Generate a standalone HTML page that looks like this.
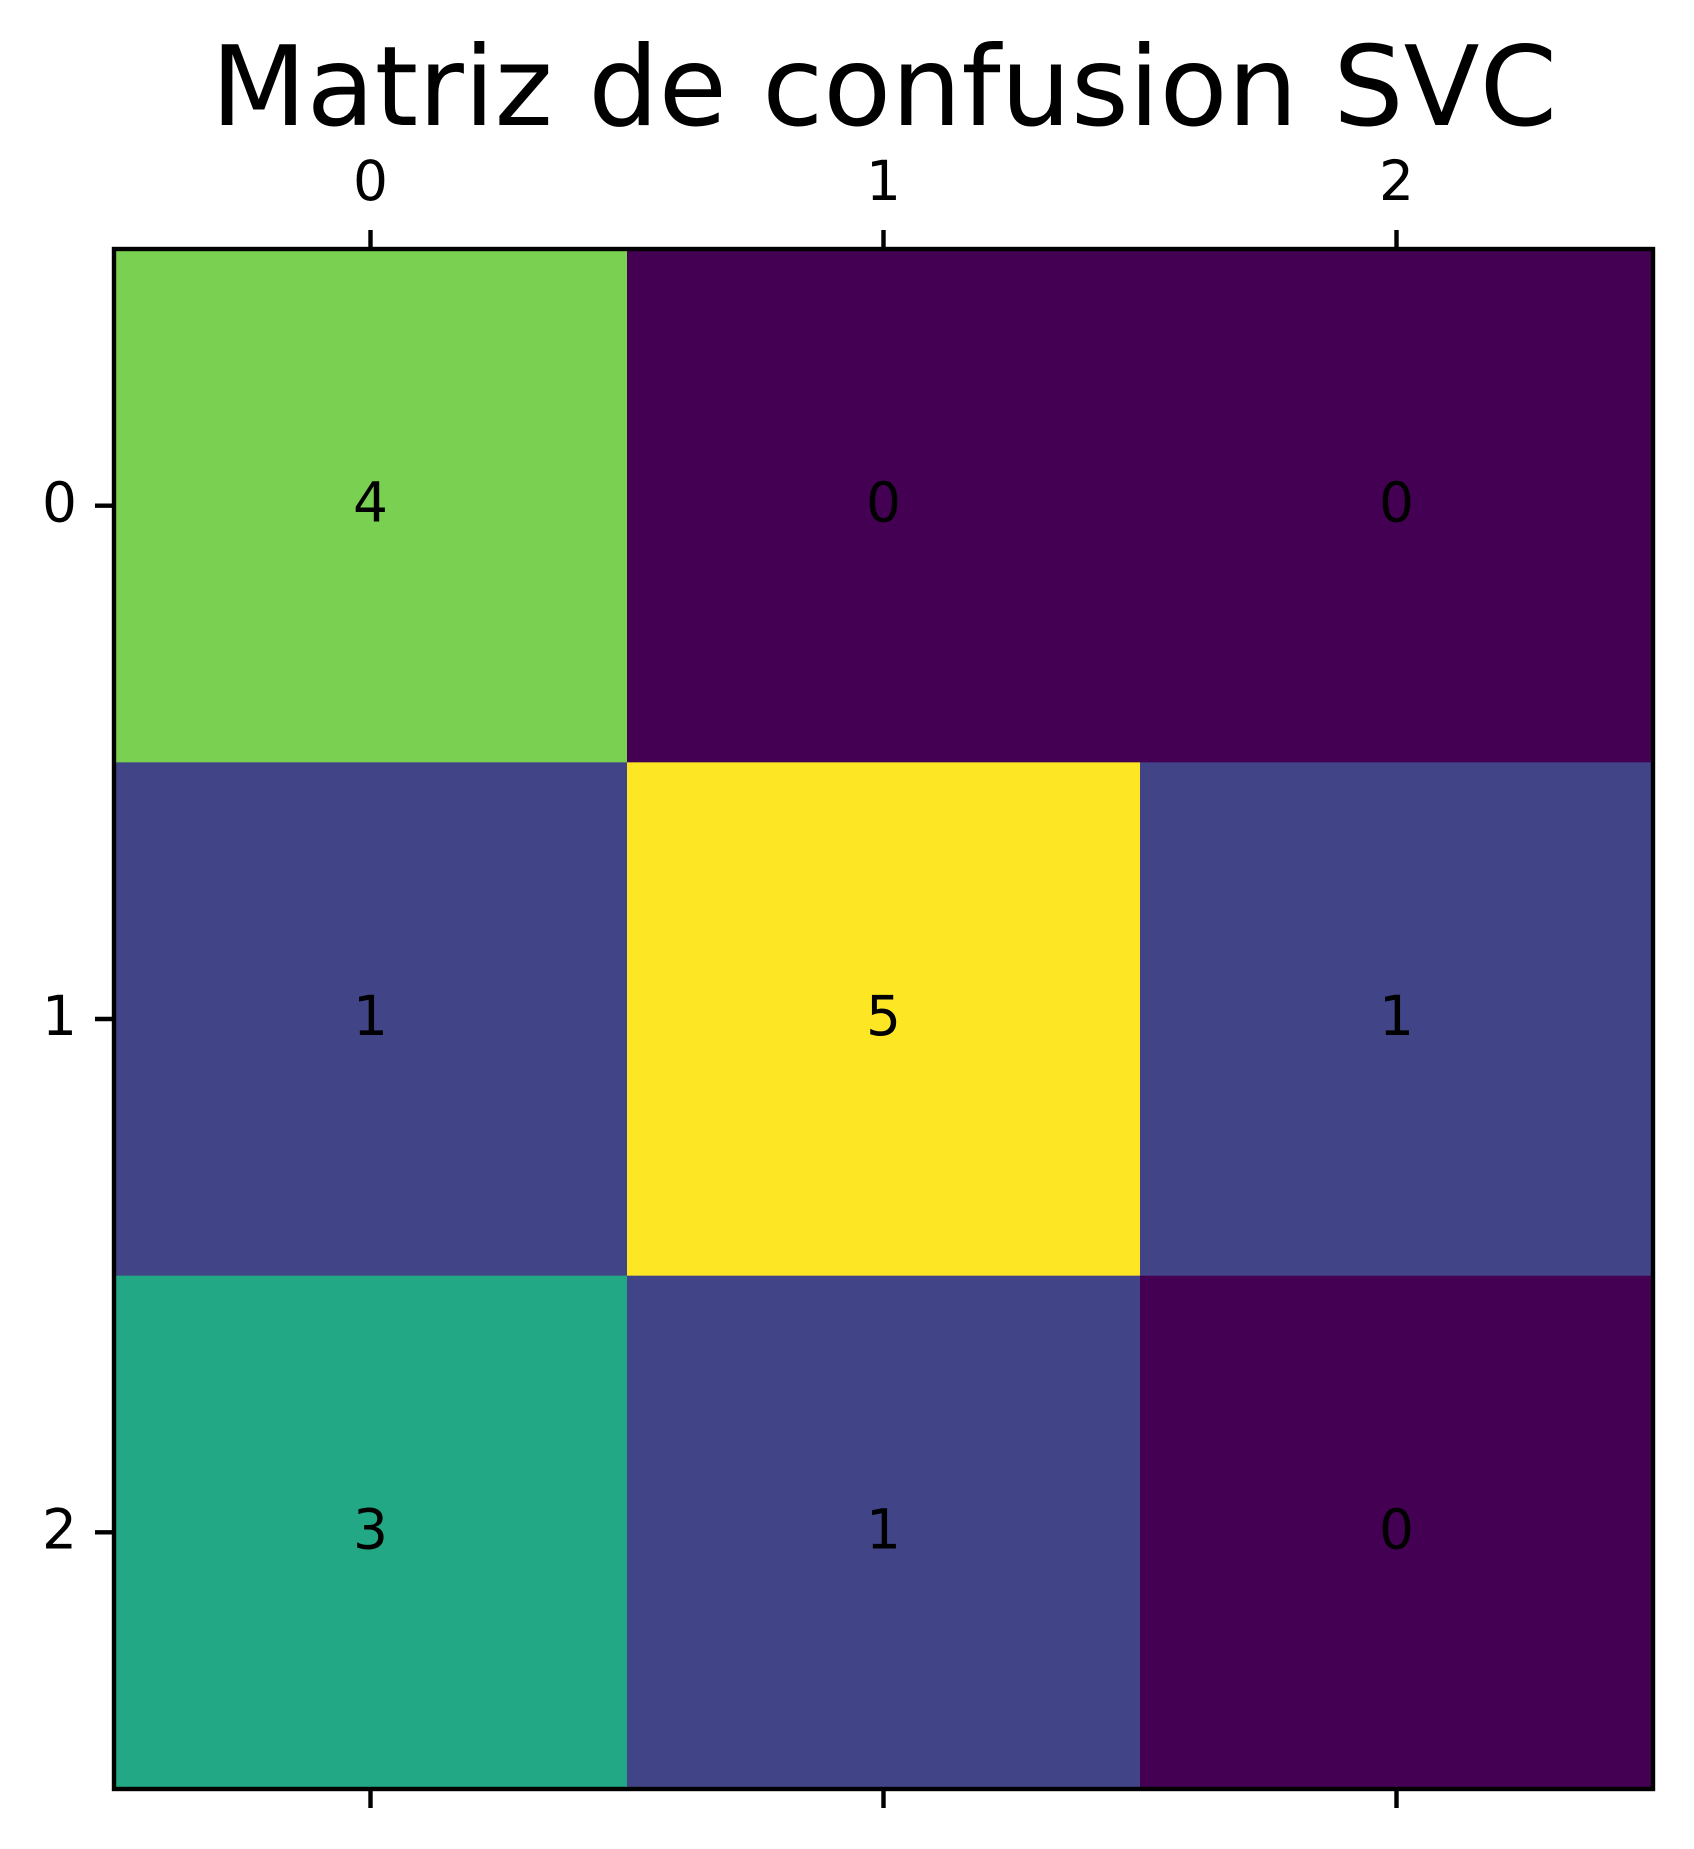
<!DOCTYPE html>
<html><head><meta charset="utf-8"><style>
body{margin:0;background:#fff}
svg{display:block;font-family:"DejaVu Sans","Liberation Sans",sans-serif}
</style></head><body>
<svg id="chart" width="1694" height="1849" viewBox="0 0 1694 1849">
<text x="884" y="125" font-size="111" text-anchor="middle">Matriz de confusion SVC</text>
<g id="cells"></g>
<g id="ticks"></g>
<rect x="114" y="249" width="1539" height="1540" fill="none" stroke="#000" stroke-width="4.4"/>
</svg>
<script>
const rowLabels = ["0","1","2"];
const colLabels = ["0","1","2"];
const matrixValues = [[4,0,0],[1,5,1],[3,1,0]];
const viridis = ["#440154","#414487","#2a788e","#22a884","#7ad151","#fde725"];
const NS="http://www.w3.org/2000/svg";
const L=114,T=249,W=1539,H=1540;
const nR=rowLabels.length,nC=colLabels.length;
const cw=W/nC,ch=H/nR;
const xC=j=>L+cw*(j+0.5), yC=i=>T+ch*(i+0.5);
let vmin=Infinity,vmax=-Infinity;
matrixValues.forEach(r=>r.forEach(v=>{vmin=Math.min(vmin,v);vmax=Math.max(vmax,v);}));
function hex(h){return [1,3,5].map(k=>parseInt(h.substr(k,2),16));}
function color(v){
  const t=(v-vmin)/((vmax-vmin)||1)*(viridis.length-1);
  const i=Math.min(Math.floor(t),viridis.length-2),f=t-i;
  const a=hex(viridis[i]),b=hex(viridis[i+1]);
  return "rgb("+a.map((x,k)=>Math.round(x+(b[k]-x)*f)).join(",")+")";
}
const cells=document.getElementById('cells'),ticks=document.getElementById('ticks');
function mk(tag,attrs,parent,txt){const e=document.createElementNS(NS,tag);for(const k in attrs)e.setAttribute(k,attrs[k]);if(txt!==undefined)e.textContent=txt;parent.appendChild(e);return e;}
matrixValues.forEach((row,i)=>row.forEach((v,j)=>{
  const r=mk('rect',{x:L+cw*j,y:T+ch*i,width:cw+0.5,height:ch+0.5,fill:color(v)},cells);
  
  
  const t=mk('text',{x:xC(j),y:yC(i)+16,'font-size':55,'text-anchor':'middle',fill:'#000'},cells,String(v));
  
  
}));
colLabels.forEach((lab,j)=>{
  const a=mk('line',{x1:xC(j),x2:xC(j),y1:T-19,y2:T,stroke:'#000','stroke-width':4.4},ticks);
  
  
  const b=mk('line',{x1:xC(j),x2:xC(j),y1:T+H,y2:T+H+19,stroke:'#000','stroke-width':4.4},ticks);
  
  
  const t=mk('text',{x:xC(j),y:200,'font-size':55,'text-anchor':'middle'},ticks,lab);
  
  
});
rowLabels.forEach((lab,i)=>{
  const a=mk('line',{x1:L-19,x2:L,y1:yC(i),y2:yC(i),stroke:'#000','stroke-width':4.4},ticks);
  
  
  const t=mk('text',{x:L-37,y:yC(i)+16,'font-size':55,'text-anchor':'end'},ticks,lab);
  
  
});
</script>
</body></html>
